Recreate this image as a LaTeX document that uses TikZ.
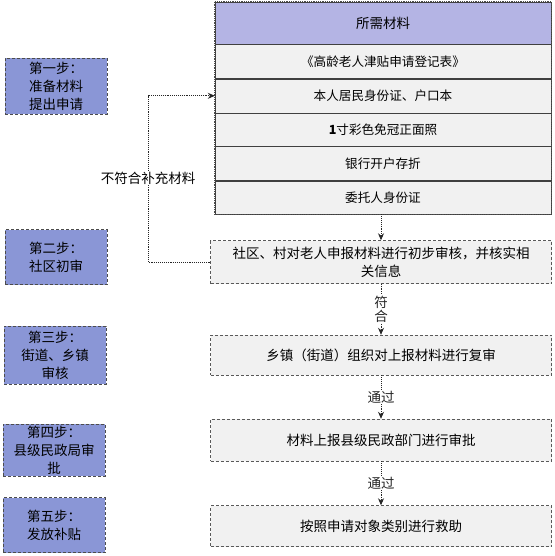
\documentclass[tikz,border=0pt]{standalone}
\usepackage{fontspec}
\newfontfamily\cjk{Noto Sans CJK SC}
\usepackage{xcolor}
\usepackage{tikz}
\usetikzlibrary{arrows.meta,calc,positioning}

\definecolor{stepblue}{RGB}{138,150,214}
\definecolor{headpurple}{RGB}{180,180,228}
\definecolor{procgray}{RGB}{241,241,241}

\begin{document}
\begin{tikzpicture}[
  x=1pt, y=-1pt,
  font=\cjk\fontsize{13.5}{18}\selectfont,
  stepbox/.style={draw=black!70, densely dashed, fill=stepblue, minimum width=102pt, align=center, inner sep=1pt},
  matrow/.style={draw=black!75, fill=procgray, minimum width=336pt, minimum height=#1, inner sep=0pt},
  proc/.style={draw=black!65, densely dashed, fill=procgray, minimum width=341pt, align=center, inner sep=2pt},
  arrow/.style={-{Stealth[length=7pt,width=6pt,fill=black!85]}, black!85, densely dotted, line width=0.9pt},
  lbl/.style={fill=white, inner sep=1pt},
]
\useasboundingbox (0,0) rectangle (554,556);

%% ---- Steps (left column) ----
\node[stepbox, minimum height=56pt] (s1) at (56,86)  {第一步：\\准备材料\\提出申请};
\node[stepbox, minimum height=55pt] (s2) at (56,257) {第二步：\\社区初审};
\node[stepbox, minimum height=58pt] (s3) at (55,355) {第三步：\\街道、乡镇\\审核};
\node[stepbox, minimum height=52pt] (s4) at (54,450) {第四步：\\县级民政局审\\批};
\node[stepbox, minimum height=55pt] (s5) at (54,525) {第五步：\\发放补贴};

%% ---- Required materials ----
\node[matrow=42pt, fill=headpurple] (mat0) at (383,23) {所需材料};
\node[matrow=34pt, below=0pt of mat0] (mat1) {\fontsize{12.6}{16}\selectfont《高龄老人津贴申请登记表》};
\node[matrow=34pt, below=0pt of mat1] (mat2) {\fontsize{12.6}{16}\selectfont 本人居民身份证、户口本};
\node[matrow=33pt, below=0pt of mat2] (mat3) {\fontsize{12.6}{16}\selectfont\textbf{1}寸彩色免冠正面照};
\node[matrow=34pt, below=0pt of mat3] (mat4) {\fontsize{12.6}{16}\selectfont 银行开户存折};
\node[matrow=33pt, below=0pt of mat4] (mat5) {\fontsize{12.6}{16}\selectfont 委托人身份证};
\draw[black!70, densely dotted, thick] (mat0.north west) rectangle (mat5.south east);

%% ---- Process boxes ----
\node[proc, minimum height=43pt] (p1) at (381,262) {社区、村对老人申报材料进行初步审核，并核实相\\关信息};
\node[proc, minimum height=40pt] (p2) at (381,355) {乡镇（街道）组织对上报材料进行复审};
\node[proc, minimum height=42pt] (p3) at (381,440) {材料上报县级民政部门进行审批};
\node[proc, minimum height=41pt] (p4) at (381,526) {按照申请对象类别进行救助};

%% ---- Connectors ----
\draw[arrow] (mat5.south -| p1.north) -- (p1.north);
\draw[arrow] (p1) -- node[lbl, align=center, font=\cjk\fontsize{13.5}{14}\selectfont] {符\\合} (p2);
\draw[arrow] (p2) -- node[lbl] {通过} (p3);
\draw[arrow] (p3) -- node[lbl] {通过} (p4);

%% ---- Feedback loop ----
\coordinate (fb) at (148,178);
\draw[arrow] (p1.west) -| (fb) |- (mat2.west);
\node[lbl] (fbl) at (fb) {不符合补充材料};

\end{tikzpicture}
\end{document}
